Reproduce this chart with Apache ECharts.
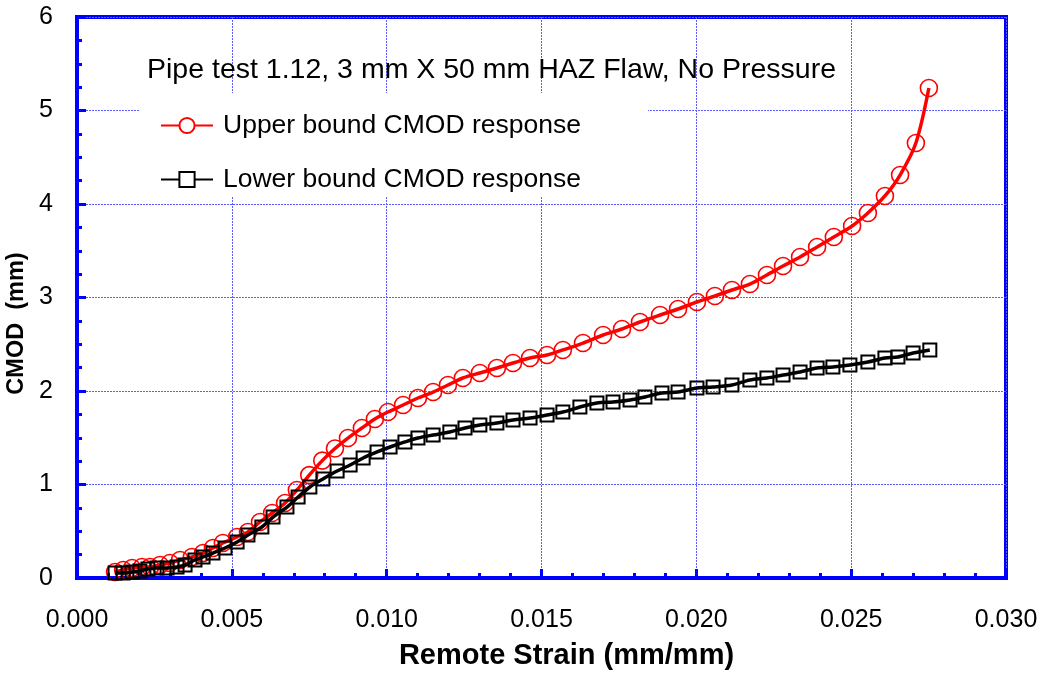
<!DOCTYPE html>
<html>
<head>
<meta charset="utf-8">
<script src="https://cdn.jsdelivr.net/npm/echarts@6/dist/echarts.min.js"></script>
<style>
html,body{margin:0;padding:0;background:#fff;}
#chart{width:1044px;height:675px;}
</style>
</head>
<body>
<div id="chart"></div>
<script>
const titleText = 'Pipe test 1.12, 3 mm X 50 mm HAZ Flaw, No Pressure';
const seriesNames = ['Upper bound CMOD response', 'Lower bound CMOD response'];
const xAxisName = 'Remote Strain (mm/mm)';
const yAxisName = 'CMOD  (mm)';

const upperX = [0.00123,0.00149,0.00178,0.00210,0.00236,0.00268,0.00300,0.00333,0.00371,0.00407,0.00439,0.00471,0.00517,0.00552,0.00591,0.00630,0.00672,0.00710,0.00750,0.00792,0.00833,0.00875,0.00920,0.00962,0.01004,0.01053,0.01101,0.01150,0.01198,0.01246,0.01301,0.01356,0.01408,0.01463,0.01518,0.01569,0.01634,0.01699,0.01760,0.01818,0.01883,0.01941,0.02002,0.02060,0.02115,0.02173,0.02228,0.02280,0.02335,0.02390,0.02444,0.02503,0.02554,0.02609,0.02658,0.02709,0.02751];
const upperY = [0.064,0.086,0.107,0.118,0.118,0.139,0.160,0.193,0.225,0.267,0.321,0.374,0.439,0.492,0.599,0.695,0.802,0.941,1.100,1.255,1.385,1.497,1.604,1.701,1.775,1.850,1.925,1.989,2.064,2.139,2.193,2.246,2.299,2.353,2.385,2.439,2.513,2.599,2.663,2.738,2.813,2.877,2.952,3.016,3.080,3.144,3.241,3.337,3.433,3.540,3.647,3.765,3.904,4.086,4.310,4.652,5.241];

const lowerX = [0.00123,0.00149,0.00178,0.00203,0.00229,0.00258,0.00291,0.00323,0.00349,0.00381,0.00407,0.00439,0.00478,0.00517,0.00552,0.00597,0.00633,0.00678,0.00714,0.00752,0.00794,0.00840,0.00882,0.00924,0.00969,0.01011,0.01059,0.01101,0.01150,0.01204,0.01253,0.01301,0.01356,0.01408,0.01463,0.01518,0.01569,0.01624,0.01679,0.01731,0.01786,0.01834,0.01889,0.01941,0.02002,0.02054,0.02115,0.02173,0.02228,0.02280,0.02335,0.02390,0.02441,0.02496,0.02554,0.02609,0.02651,0.02700,0.02754];
const lowerY = [0.053,0.053,0.064,0.075,0.096,0.107,0.107,0.118,0.139,0.193,0.225,0.267,0.321,0.385,0.460,0.545,0.652,0.759,0.866,0.973,1.059,1.144,1.209,1.283,1.348,1.401,1.455,1.497,1.529,1.561,1.604,1.636,1.658,1.690,1.711,1.743,1.775,1.829,1.872,1.882,1.904,1.936,1.979,1.989,2.032,2.043,2.064,2.118,2.139,2.171,2.203,2.246,2.257,2.278,2.310,2.353,2.364,2.406,2.439];

const xMin = 0, xMax = 0.030, xStep = 0.005;
const yMin = 0, yMax = 6, yStep = 1;

const zip = (xs, ys) => xs.map((x, i) => [x, ys[i]]);
const FONT = "'Liberation Sans', Arial, sans-serif";
const BLUE = '#0000ff';
const GRIDC = '#5c5cff';

const chart = echarts.init(document.getElementById('chart'), null, {renderer: 'canvas'});
chart.setOption({
  backgroundColor: '#ffffff',
  animation: false,
  textStyle: {fontFamily: FONT},
  title: {
    text: titleText,
    left: 147, top: 56, padding: 0,
    textStyle: {fontFamily: FONT, fontSize: 28.5, fontWeight: 'normal', color: '#000'}
  },
  graphic: [{
    type: 'rect', z: 1, silent: true,
    shape: {x: 140, y: 93, width: 508, height: 104},
    style: {fill: '#ffffff'}
  }],
  legend: {
    orient: 'vertical', left: 160, top: 112, padding: 0,
    itemWidth: 52, itemHeight: 19, itemGap: 27,
    itemStyle: {color: '#ffffff'},
    textStyle: {fontFamily: FONT, fontSize: 26.5, color: '#000', padding: [0, 0, 0, 5]},
    data: seriesNames
  },
  grid: {
    left: 77, right: 38, top: 17, bottom: 97,
    containLabel: false, outerBoundsMode: 'none',
    show: true, borderColor: BLUE, borderWidth: 4, backgroundColor: 'transparent'
  },
  xAxis: {
    type: 'value', min: xMin, max: xMax, interval: xStep,
    name: xAxisName, nameLocation: 'middle', nameGap: 63,
    nameTextStyle: {fontFamily: FONT, fontSize: 29, fontWeight: 'bold', color: '#000', padding: [0, 0, 0, 50]},
    axisLine: {show: true, onZero: false, lineStyle: {color: BLUE, width: 4}},
    axisTick: {show: true, inside: true, length: 9, lineStyle: {color: BLUE, width: 3}},
    minorTick: {show: true, splitNumber: 5, length: 5, lineStyle: {color: BLUE, width: 3}},
    axisLabel: {margin: 30, fontFamily: FONT, fontSize: 25, color: '#000', formatter: v => v.toFixed(3)},
    splitLine: {show: true, lineStyle: {color: GRIDC, width: 1, type: [2, 1]}}
  },
  yAxis: {
    type: 'value', min: yMin, max: yMax, interval: yStep,
    name: yAxisName, nameLocation: 'middle', nameGap: 44,
    nameTextStyle: {fontFamily: FONT, fontSize: 23.5, fontWeight: 'bold', color: '#000', padding: [0, 52, 0, 0]},
    axisLine: {show: true, onZero: false, lineStyle: {color: BLUE, width: 4}},
    axisTick: {show: true, inside: true, length: 9, lineStyle: {color: BLUE, width: 3}},
    minorTick: {show: true, splitNumber: 4, length: 5, lineStyle: {color: BLUE, width: 3}},
    axisLabel: {margin: 24, fontFamily: FONT, fontSize: 25, color: '#000'},
    splitLine: {show: true, lineStyle: {color: GRIDC, width: 1, type: [2, 1]}}
  },
  series: [
    {
      name: seriesNames[0], type: 'line', smooth: 0.3, z: 3,
      data: zip(upperX, upperY),
      symbol: 'circle', symbolSize: 17,
      lineStyle: {color: '#ff0000', width: 3.5},
      itemStyle: {color: 'rgba(0,0,0,0)', borderColor: '#ff0000', borderWidth: 1.6}
    },
    {
      name: seriesNames[1], type: 'line', smooth: 0.3, z: 4,
      data: zip(lowerX, lowerY),
      symbol: 'rect', symbolSize: 13,
      lineStyle: {color: '#000000', width: 3.5},
      itemStyle: {color: 'rgba(0,0,0,0)', borderColor: '#000000', borderWidth: 2}
    }
  ]
});
</script>
</body>
</html>
